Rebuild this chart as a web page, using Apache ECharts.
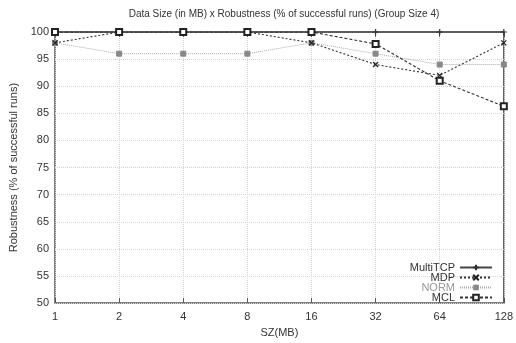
<!DOCTYPE html>
<html><head><meta charset="utf-8">
<script src="https://cdn.jsdelivr.net/npm/echarts@6/dist/echarts.min.js"></script>
<style>html,body{margin:0;padding:0;background:#fff}#c{width:516px;height:343px}</style>
</head><body><div id="c"></div>
<script>
var categories = ['1','2','4','8','16','32','64','128'];
var yTicks = [50,55,60,65,70,75,80,85,90,95,100];
var multiTCP = [100,100,100,100,100,100,100,100];
var mdp = [98,100,100,100,98,94,92,98];
var norm = [98,96,96,96,98,96,94,94];
var mcl = [100,100,100,100,100,97.8,91,86.3];

var FONT = 'Liberation Sans, Arial, sans-serif';
var chart = echarts.init(document.getElementById('c'));
var plus = 'path://M0,5L10,5M5,0L5,10';
var cross = 'path://M0,0L10,10M10,0L0,10';
function mk(name, data, o){
  return Object.assign({name:name,type:'line',data:data,symbolSize:6,animation:false,
    xAxisIndex:0,yAxisIndex:0}, o);
}
chart.setOption({
  animation:false,
  title:{text:'Data Size (in MB) x Robustness (% of successful runs) (Group Size 4)',left:279,textAlign:'center',top:4,
    textStyle:{fontFamily:FONT,fontSize:10,fontWeight:'normal',color:'#333'}},
  grid:{left:54,right:10,top:32,bottom:35,show:true,borderColor:'#555',borderWidth:1.5},
  legend:{orient:'vertical',right:18,bottom:35,align:'right',itemGap:-1,itemWidth:32,itemHeight:7,
    textStyle:{fontFamily:FONT,fontSize:11,lineHeight:10,color:'#333',padding:[0,0,0,0]},
    data:['MultiTCP','MDP',{name:'NORM',textStyle:{color:'#999'}},'MCL']},
  xAxis:[{type:'category',data:categories,boundaryGap:false,name:'SZ(MB)',nameLocation:'middle',nameGap:20,
    nameTextStyle:{fontFamily:FONT,fontSize:11,color:'#333'},
    axisLine:{show:false},axisTick:{inside:true,length:5,lineStyle:{color:'#555'}},
    axisLabel:{fontFamily:FONT,fontSize:11,color:'#333',margin:8},
    splitLine:{show:true,lineStyle:{color:'#d4d4d4',type:'dotted'}}},
    {type:'category',data:categories,boundaryGap:false,position:'top',axisLine:{show:false},
    axisTick:{inside:true,length:5,lineStyle:{color:'#555'}},axisLabel:{show:false},splitLine:{show:false}}],
  yAxis:[{type:'value',min:50,max:100,interval:5,name:'Robustness (% of successful runs)',nameLocation:'middle',nameGap:36,
    nameTextStyle:{fontFamily:FONT,fontSize:11,color:'#333'},
    axisLine:{show:false},axisTick:{inside:true,length:5,lineStyle:{color:'#555'}},
    axisLabel:{fontFamily:FONT,fontSize:11,color:'#333',margin:6,
      formatter:function(v){return yTicks.indexOf(v)>=0?String(v):'';}},
    splitLine:{show:true,lineStyle:{color:'#d4d4d4',type:'dotted'}}},
    {type:'value',min:50,max:100,interval:5,position:'right',axisLine:{show:false},
    axisTick:{inside:true,length:5,lineStyle:{color:'#555'}},axisLabel:{show:false},splitLine:{show:false}}],
  series:[
    mk('MultiTCP',multiTCP,{symbol:plus,lineStyle:{color:'#444',width:1.5,type:'solid'},
      itemStyle:{color:'#333',borderColor:'#333',borderWidth:1.2},z:5}),
    mk('MDP',mdp,{symbol:cross,symbolSize:5,lineStyle:{color:'#333',width:1.1,type:[2,2]},
      itemStyle:{color:'#222',borderColor:'#222',borderWidth:1.2},z:4}),
    mk('NORM',norm,{symbol:'rect',symbolSize:5,lineStyle:{color:'#aaa',width:1,type:[1,1]},
      itemStyle:{color:'#888',borderColor:'#888'},z:3}),
    mk('MCL',mcl,{symbol:'emptyRect',symbolSize:6,lineStyle:{color:'#333',width:1.1,type:[3,2]},
      itemStyle:{color:'#222',borderColor:'#222',borderWidth:1.1},z:6})
  ]
});
</script></body></html>
